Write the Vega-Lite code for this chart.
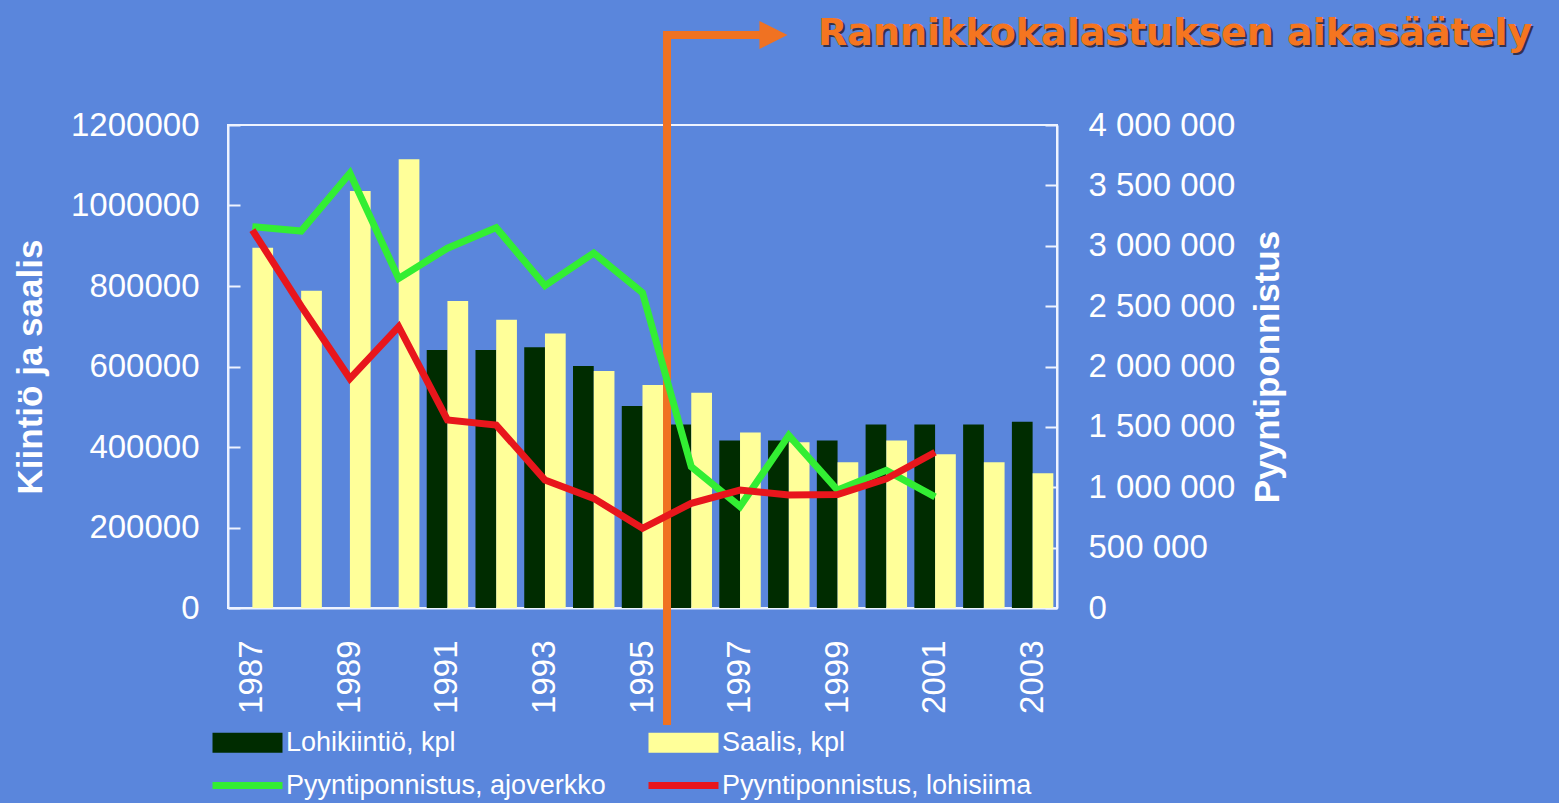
{
  "$schema": "https://vega.github.io/schema/vega-lite/v6.json",
  "width": 829,
  "height": 483,
  "autosize": {"type": "none"},
  "padding": {"left": 228, "top": 125, "right": 502, "bottom": 195},
  "background": "#5a86dc",
  "config": {
    "view": {"stroke": "#eef3ff", "strokeWidth": 2},
    "font": "Liberation Sans",
    "axis": {"grid": false, "labelColor": "white", "domainColor": "#eef3ff", "domainWidth": 2, "tickColor": "#eef3ff", "tickWidth": 2, "labelFont": "Liberation Sans"}
  },
  "datasets": {
    "bars": [
      {"year": 1987, "series": "Saalis, kpl", "value": 895000},
      {"year": 1988, "series": "Saalis, kpl", "value": 788000},
      {"year": 1989, "series": "Saalis, kpl", "value": 1036000},
      {"year": 1990, "series": "Saalis, kpl", "value": 1115000},
      {"year": 1991, "series": "Lohikiintiö, kpl", "value": 641000},
      {"year": 1991, "series": "Saalis, kpl", "value": 763000},
      {"year": 1992, "series": "Lohikiintiö, kpl", "value": 641000},
      {"year": 1992, "series": "Saalis, kpl", "value": 716000},
      {"year": 1993, "series": "Lohikiintiö, kpl", "value": 648000},
      {"year": 1993, "series": "Saalis, kpl", "value": 682000},
      {"year": 1994, "series": "Lohikiintiö, kpl", "value": 601000},
      {"year": 1994, "series": "Saalis, kpl", "value": 589000},
      {"year": 1995, "series": "Lohikiintiö, kpl", "value": 502000},
      {"year": 1995, "series": "Saalis, kpl", "value": 554000},
      {"year": 1996, "series": "Lohikiintiö, kpl", "value": 456000},
      {"year": 1996, "series": "Saalis, kpl", "value": 535000},
      {"year": 1997, "series": "Lohikiintiö, kpl", "value": 416000},
      {"year": 1997, "series": "Saalis, kpl", "value": 436000},
      {"year": 1998, "series": "Lohikiintiö, kpl", "value": 416000},
      {"year": 1998, "series": "Saalis, kpl", "value": 412000},
      {"year": 1999, "series": "Lohikiintiö, kpl", "value": 416000},
      {"year": 1999, "series": "Saalis, kpl", "value": 362000},
      {"year": 2000, "series": "Lohikiintiö, kpl", "value": 456000},
      {"year": 2000, "series": "Saalis, kpl", "value": 416000},
      {"year": 2001, "series": "Lohikiintiö, kpl", "value": 456000},
      {"year": 2001, "series": "Saalis, kpl", "value": 382000},
      {"year": 2002, "series": "Lohikiintiö, kpl", "value": 456000},
      {"year": 2002, "series": "Saalis, kpl", "value": 362000},
      {"year": 2003, "series": "Lohikiintiö, kpl", "value": 463000},
      {"year": 2003, "series": "Saalis, kpl", "value": 335000}
    ],
    "lines": [
      {"year": 1987, "series": "Pyyntiponnistus, ajoverkko", "value": 3158000},
      {"year": 1988, "series": "Pyyntiponnistus, ajoverkko", "value": 3122000},
      {"year": 1989, "series": "Pyyntiponnistus, ajoverkko", "value": 3600000},
      {"year": 1990, "series": "Pyyntiponnistus, ajoverkko", "value": 2730000},
      {"year": 1991, "series": "Pyyntiponnistus, ajoverkko", "value": 2980000},
      {"year": 1992, "series": "Pyyntiponnistus, ajoverkko", "value": 3150000},
      {"year": 1993, "series": "Pyyntiponnistus, ajoverkko", "value": 2670000},
      {"year": 1994, "series": "Pyyntiponnistus, ajoverkko", "value": 2940000},
      {"year": 1995, "series": "Pyyntiponnistus, ajoverkko", "value": 2610000},
      {"year": 1996, "series": "Pyyntiponnistus, ajoverkko", "value": 1170000},
      {"year": 1997, "series": "Pyyntiponnistus, ajoverkko", "value": 840000},
      {"year": 1998, "series": "Pyyntiponnistus, ajoverkko", "value": 1430000},
      {"year": 1999, "series": "Pyyntiponnistus, ajoverkko", "value": 977000},
      {"year": 2000, "series": "Pyyntiponnistus, ajoverkko", "value": 1140000},
      {"year": 2001, "series": "Pyyntiponnistus, ajoverkko", "value": 920000},
      {"year": 1987, "series": "Pyyntiponnistus, lohisiima", "value": 3130000},
      {"year": 1988, "series": "Pyyntiponnistus, lohisiima", "value": 2500000},
      {"year": 1989, "series": "Pyyntiponnistus, lohisiima", "value": 1900000},
      {"year": 1990, "series": "Pyyntiponnistus, lohisiima", "value": 2330000},
      {"year": 1991, "series": "Pyyntiponnistus, lohisiima", "value": 1557000},
      {"year": 1992, "series": "Pyyntiponnistus, lohisiima", "value": 1515000},
      {"year": 1993, "series": "Pyyntiponnistus, lohisiima", "value": 1060000},
      {"year": 1994, "series": "Pyyntiponnistus, lohisiima", "value": 908000},
      {"year": 1995, "series": "Pyyntiponnistus, lohisiima", "value": 660000},
      {"year": 1996, "series": "Pyyntiponnistus, lohisiima", "value": 867000},
      {"year": 1997, "series": "Pyyntiponnistus, lohisiima", "value": 977000},
      {"year": 1998, "series": "Pyyntiponnistus, lohisiima", "value": 936000},
      {"year": 1999, "series": "Pyyntiponnistus, lohisiima", "value": 940000},
      {"year": 2000, "series": "Pyyntiponnistus, lohisiima", "value": 1070000},
      {"year": 2001, "series": "Pyyntiponnistus, lohisiima", "value": 1290000}
    ],
    "note": [
      {"year": 1996, "year2": 1998, "textyear": 1999, "ytop": 1423600, "ybot": -280745, "ytext": 1398757, "label": "Rannikkokalastuksen aikasäätely"}
    ]
  },
  "layer": [
    {
      "layer": [
        {
          "data": {"name": "bars"},
          "mark": {"type": "bar"},
          "encoding": {
            "x": {
              "field": "year", "type": "ordinal",
              "scale": {"paddingInner": 0.15, "paddingOuter": 0.075},
              "axis": {"title": null, "values": [1987, 1989, 1991, 1993, 1995, 1997, 1999, 2001, 2003], "labelAngle": 270, "labelFontSize": 33, "labelPadding": 32, "ticks": false}
            },
            "xOffset": {"field": "series", "type": "nominal", "scale": {"domain": ["Lohikiintiö, kpl", "Saalis, kpl"], "paddingInner": 0, "paddingOuter": 0}},
            "y": {
              "field": "value", "type": "quantitative",
              "scale": {"domain": [0, 1200000], "nice": false},
              "axis": {"title": "Kiintiö ja saalis", "values": [0, 200000, 400000, 600000, 800000, 1000000, 1200000], "format": "d", "labelFontSize": 33, "tickSize": -12, "labelPadding": 41, "titleFontSize": 35, "titleFontWeight": "bold", "titleColor": "white", "titleAngle": 270, "titleX": -198, "titleY": 241.5, "titleAlign": "center", "titleBaseline": "middle"}
            },
            "color": {
              "field": "series", "type": "nominal",
              "scale": {"domain": ["Lohikiintiö, kpl", "Saalis, kpl", "Pyyntiponnistus, ajoverkko", "Pyyntiponnistus, lohisiima"], "range": ["#002c00", "#ffff99", "#33ee33", "#e8161c"]},
              "legend": {
                "title": null, "orient": "none", "direction": "horizontal", "legendX": -19, "legendY": 604, "columns": 2, "columnPadding": 39, "rowPadding": 15,
                "labelColor": "white", "labelFontSize": 27, "labelFont": "Liberation Sans", "labelOffset": 50, "labelLimit": 500, "symbolSize": 400,
                "encode": {
                  "symbols": {"update": {
                    "shape": {"signal": "indexof(['Lohikiintiö, kpl','Saalis, kpl'], datum.value) >= 0 ? 'M-1,-1H6V1H-1Z' : 'M-1,-0.35H6V0.35H-1Z'"},
                    "fill": {"signal": "scale('color', datum.value)"},
                    "stroke": {"value": "transparent"},
                    "strokeWidth": {"value": 0},
                    "opacity": {"value": 1}
                  }}
                }
              }
            }
          }
        },
        {
          "data": {"name": "note"},
          "mark": {"type": "rule", "color": "#f07222", "strokeWidth": 8, "strokeCap": "square"},
          "encoding": {
            "x": {"field": "year", "type": "ordinal", "bandPosition": -0.085, "title": null},
            "y": {"field": "ytop", "type": "quantitative", "scale": {"domain": [0, 1200000], "nice": false}},
            "y2": {"field": "ybot"}
          }
        },
        {
          "data": {"name": "note"},
          "mark": {"type": "rule", "color": "#f07222", "strokeWidth": 8, "strokeCap": "butt"},
          "encoding": {
            "x": {"field": "year", "type": "ordinal", "bandPosition": -0.085, "title": null},
            "x2": {"field": "year2", "bandPosition": -0.08},
            "y": {"field": "ytop", "type": "quantitative", "scale": {"domain": [0, 1200000], "nice": false}}
          }
        },
        {
          "data": {"name": "note"},
          "mark": {"type": "point", "shape": "M-1,-1L1,0L-1,1Z", "filled": true, "color": "#f07222", "opacity": 1, "size": 784},
          "encoding": {
            "x": {"field": "year2", "type": "ordinal", "bandPosition": 0.13, "title": null},
            "y": {"field": "ytop", "type": "quantitative", "scale": {"domain": [0, 1200000], "nice": false}}
          }
        },
        {
          "data": {"name": "note"},
          "mark": {"type": "text", "font": "DejaVu Sans", "fontWeight": "bold", "fontSize": 38, "align": "left", "baseline": "alphabetic", "color": "#2e2436", "opacity": 0.85, "dx": 2, "dy": 2},
          "encoding": {
            "x": {"field": "textyear", "type": "ordinal", "bandPosition": 0.03, "title": null},
            "y": {"field": "ytext", "type": "quantitative", "scale": {"domain": [0, 1200000], "nice": false}},
            "text": {"field": "label"}
          }
        },
        {
          "data": {"name": "note"},
          "mark": {"type": "text", "font": "DejaVu Sans", "fontWeight": "bold", "fontSize": 38, "align": "left", "baseline": "alphabetic", "color": "#f57520"},
          "encoding": {
            "x": {"field": "textyear", "type": "ordinal", "bandPosition": 0.03, "title": null},
            "y": {"field": "ytext", "type": "quantitative", "scale": {"domain": [0, 1200000], "nice": false}},
            "text": {"field": "label"}
          }
        }
      ]
    },
    {
      "data": {"name": "lines"},
      "mark": {"type": "line", "strokeWidth": 7},
      "encoding": {
        "x": {"field": "year", "type": "ordinal", "title": null},
        "y": {
          "field": "value", "type": "quantitative",
          "scale": {"domain": [0, 4000000], "nice": false},
          "axis": {"title": "Pyyntiponnistus", "orient": "right", "values": [0, 500000, 1000000, 1500000, 2000000, 2500000, 3000000, 3500000, 4000000], "labelExpr": "replace(replace(format(datum.value, ','), ',', ' '), ',', ' ')", "labelFontSize": 33, "tickSize": -12, "labelPadding": 43, "titleFontSize": 35, "titleFontWeight": "bold", "titleColor": "white", "titleAngle": 270, "titleX": 210, "titleY": 241.5, "titleAlign": "center", "titleBaseline": "middle"}
        },
        "color": {
          "field": "series", "type": "nominal",
          "scale": {"domain": ["Lohikiintiö, kpl", "Saalis, kpl", "Pyyntiponnistus, ajoverkko", "Pyyntiponnistus, lohisiima"], "range": ["#002c00", "#ffff99", "#33ee33", "#e8161c"]}
        }
      }
    }
  ],
  "resolve": {"scale": {"y": "independent"}}
}
